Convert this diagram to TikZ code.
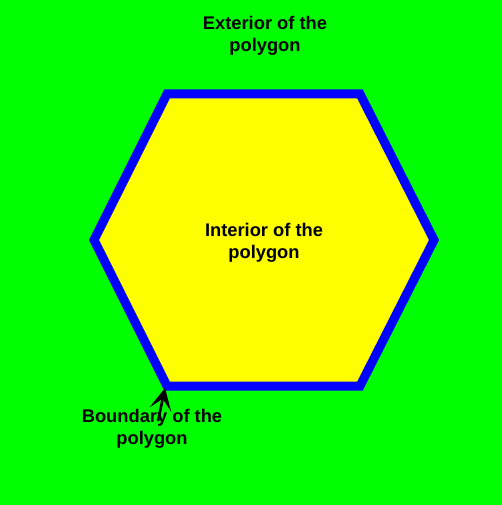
\documentclass[tikz,border=0pt]{standalone}
\usepackage{fontspec}
\setmainfont{Liberation Sans}
\usetikzlibrary{arrows.meta}
\definecolor{bggreen}{RGB}{0,255,0}
\definecolor{hexblue}{RGB}{0,0,255}
\definecolor{hexyellow}{RGB}{255,255,0}
\tikzset{
  lbl/.style={font=\bfseries\fontsize{18.3}{22}\selectfont, align=center, text=black, inner sep=0pt},
  hexline/.style={draw=hexblue, fill=hexyellow, line width=9pt, line join=miter},
  pointer/.style={-{Stealth[length=22pt,width=22pt,inset=11pt]}, line width=2.6pt, black}
}
\begin{document}
\begin{tikzpicture}[x=1pt,y=-1pt]
\fill[bggreen] (0,0) rectangle (502,505);
\useasboundingbox (0,0) rectangle (502,505);
\coordinate (v1) at (167,94);
\coordinate (v2) at (360,94);
\coordinate (v3) at (434,240);
\coordinate (v4) at (360,386);
\coordinate (v5) at (167,386);
\coordinate (v6) at (94,240);
\draw[hexline] (v1) -- (v2) -- (v3) -- (v4) -- (v5) -- (v6) -- cycle;
\node[lbl] (ext) at (265,35.5) {Exterior of the\\polygon};
\node[lbl] (int) at (264,243) {Interior of the\\polygon};
\node[lbl] (bnd) at (152,428.5) {Boundary of the\\polygon};
\coordinate (tail) at (158,421);
\coordinate (tip) at (165,388);
\draw[pointer] (tail) -- (tip);
\end{tikzpicture}
\end{document}
